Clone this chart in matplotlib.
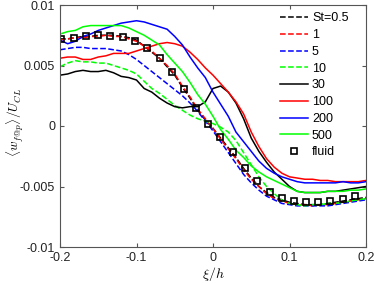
import matplotlib
matplotlib.use("Agg")
import matplotlib.pyplot as plt

plt.rcParams["font.family"] = ["Liberation Sans", "DejaVu Sans"]
plt.rcParams["mathtext.fontset"] = "cm"

# xi/h sample positions of the particle curves
xi = [-0.20, -0.19, -0.18, -0.17, -0.16, -0.15, -0.14, -0.13, -0.12, -0.11,
      -0.10, -0.09, -0.08, -0.07, -0.06, -0.05, -0.04, -0.03, -0.02, -0.01,
      0.00, 0.01, 0.02, 0.03, 0.04, 0.05, 0.06, 0.07, 0.08, 0.09,
      0.10, 0.11, 0.12, 0.13, 0.14, 0.15, 0.16, 0.17, 0.18, 0.19, 0.20]

st_05 = [0.0072, 0.0072, 0.0073, 0.0074, 0.0074, 0.0075, 0.0075, 0.0075, 0.0074, 0.0073,
         0.0071, 0.0066, 0.0061, 0.0056, 0.0049, 0.0042, 0.0032, 0.0023, 0.0013, 0.0005,
         -0.0002, -0.0010, -0.0018, -0.0026, -0.0035, -0.0043, -0.0050, -0.0055, -0.0059, -0.0061,
         -0.0063, -0.0064, -0.0065, -0.0065, -0.0065, -0.0064, -0.0063, -0.0062, -0.0061, -0.0060, -0.0059]
st_1 = [0.0071, 0.0072, 0.0073, 0.0073, 0.0074, 0.0074, 0.0075, 0.0074, 0.0074, 0.0072,
        0.0070, 0.0066, 0.0062, 0.0056, 0.0050, 0.0043, 0.0033, 0.0024, 0.0014, 0.0006,
        -0.0002, -0.0011, -0.0019, -0.0027, -0.0036, -0.0044, -0.0050, -0.0056, -0.0060, -0.0062,
        -0.0064, -0.0065, -0.0065, -0.0066, -0.0065, -0.0065, -0.0064, -0.0063, -0.0062, -0.0061, -0.0060]
st_5 = [0.0063, 0.0064, 0.0065, 0.0065, 0.0064, 0.0064, 0.0064, 0.0063, 0.0062, 0.0059,
        0.0055, 0.0050, 0.0045, 0.0040, 0.0035, 0.0030, 0.0025, 0.0019, 0.0012, 0.0004,
        -0.0004, -0.0013, -0.0022, -0.0031, -0.0040, -0.0047, -0.0053, -0.0058, -0.0061, -0.0064,
        -0.0065, -0.0066, -0.0066, -0.0066, -0.0066, -0.0066, -0.0065, -0.0064, -0.0063, -0.0062, -0.0061]
st_10 = [0.0049, 0.0052, 0.0054, 0.0053, 0.0053, 0.0052, 0.0052, 0.0050, 0.0048, 0.0046,
         0.0043, 0.0037, 0.0031, 0.0027, 0.0022, 0.0017, 0.0013, 0.0009, 0.0006, 0.0004,
         0.0002, -0.0001, -0.0005, -0.0012, -0.0022, -0.0032, -0.0042, -0.0050, -0.0056, -0.0061,
         -0.0064, -0.0065, -0.0066, -0.0065, -0.0065, -0.0064, -0.0064, -0.0063, -0.0062, -0.0061, -0.0060]
st_30 = [0.0042, 0.0043, 0.0045, 0.0046, 0.0045, 0.0045, 0.0046, 0.0044, 0.0041, 0.0040,
         0.0038, 0.0031, 0.0028, 0.0023, 0.0019, 0.0016, 0.0015, 0.0016, 0.0016, 0.0020,
         0.0031, 0.0033, 0.0028, 0.0019, 0.0006, -0.0010, -0.0021, -0.0030, -0.0038, -0.0044,
         -0.0050, -0.0054, -0.0055, -0.0055, -0.0055, -0.0054, -0.0054, -0.0053, -0.0052, -0.0051, -0.0050]
st_100 = [0.0056, 0.0057, 0.0057, 0.0055, 0.0055, 0.0057, 0.0058, 0.0060, 0.0060, 0.0060,
          0.0062, 0.0064, 0.0066, 0.0068, 0.0069, 0.0068, 0.0066, 0.0061, 0.0055, 0.0048,
          0.0042, 0.0035, 0.0028, 0.0020, 0.0010, -0.0005, -0.0017, -0.0027, -0.0034, -0.0039,
          -0.0042, -0.0043, -0.0044, -0.0044, -0.0045, -0.0045, -0.0046, -0.0046, -0.0046, -0.0046, -0.0045]
st_200 = [0.0071, 0.0068, 0.0070, 0.0074, 0.0076, 0.0079, 0.0081, 0.0083, 0.0085, 0.0086,
          0.0087, 0.0086, 0.0084, 0.0082, 0.0080, 0.0074, 0.0067, 0.0057, 0.0048, 0.0040,
          0.0028, 0.0018, 0.0008, -0.0005, -0.0013, -0.0021, -0.0029, -0.0035, -0.0039, -0.0042,
          -0.0044, -0.0046, -0.0047, -0.0047, -0.0047, -0.0047, -0.0047, -0.0046, -0.0047, -0.0047, -0.0046]
st_500 = [0.0076, 0.0078, 0.0079, 0.0082, 0.0083, 0.0083, 0.0083, 0.0083, 0.0083, 0.0081,
          0.0078, 0.0075, 0.0071, 0.0067, 0.0059, 0.0052, 0.0045, 0.0036, 0.0026, 0.0018,
          0.0008, -0.0003, -0.0011, -0.0020, -0.0026, -0.0033, -0.0038, -0.0042, -0.0045, -0.0048,
          -0.0051, -0.0054, -0.0055, -0.0055, -0.0055, -0.0054, -0.0054, -0.0054, -0.0053, -0.0053, -0.0052]

# fluid reference (squares)
xi_fluid = [-0.1987, -0.1817, -0.1664, -0.1507, -0.1346, -0.1180, -0.1020, -0.0863, -0.0697,
            -0.0540, -0.0383, -0.0222, -0.0061, 0.0098, 0.0258, 0.0418, 0.0575, 0.0741,
            0.0902, 0.1059, 0.1220, 0.1376, 0.1533, 0.1695, 0.1856]
w_fluid = [0.00719, 0.00730, 0.00744, 0.00750, 0.00746, 0.00733, 0.00702, 0.00642, 0.00564,
           0.00446, 0.00303, 0.00149, 0.00015, -0.00091, -0.00217, -0.00349, -0.00456, -0.00543,
           -0.00593, -0.00620, -0.00626, -0.00626, -0.00617, -0.00601, -0.00579]

fig = plt.figure(figsize=(3.74, 2.84), dpi=100)
ax = fig.add_axes([60 / 374, 37 / 284, 306 / 374, 242 / 284])

ax.plot(xi, st_05, "k--", lw=1.1, label="St=0.5")
ax.plot(xi, st_1, "--", color="#ff0000", lw=1.1, label="1")
ax.plot(xi, st_5, "--", color="#0000ff", lw=1.1, label="5")
ax.plot(xi, st_10, "--", color="#00ff00", lw=1.1, label="10")
ax.plot(xi, st_30, "k-", lw=1.1, label="30")
ax.plot(xi, st_100, "-", color="#ff0000", lw=1.1, label="100")
ax.plot(xi, st_200, "-", color="#0000ff", lw=1.1, label="200")
ax.plot(xi, st_500, "-", color="#00ff00", lw=1.1, label="500")
ax.plot(xi_fluid, w_fluid, "s", mfc="none", mec="k", mew=1.2, ms=4.5, label="fluid")

ax.set_xlim(-0.2, 0.2)
ax.set_ylim(-0.01, 0.01)
ax.set_xticks([-0.2, -0.1, 0, 0.1, 0.2])
ax.set_xticklabels(["-0.2", "-0.1", "0", "0.1", "0.2"])
ax.set_yticks([-0.01, -0.005, 0, 0.005, 0.01])
ax.set_yticklabels(["-0.01", "-0.005", "0", "0.005", "0.01"])
ax.tick_params(direction="in", top=True, right=True, labelsize=9, length=3,
               color="#555555", labelcolor="#222222")
for s in ax.spines.values():
    s.set_color("#555555")
    s.set_linewidth(0.8)

ax.set_xlabel(r"$\xi/h$", fontsize=10, labelpad=1)
ax.set_ylabel(r"$\langle w_{f@p}\rangle/U_{CL}$", fontsize=9.5)
ax.yaxis.set_label_coords(-0.112, 0.517)

ax.legend(loc="upper right", bbox_to_anchor=(0.959, 0.99), borderaxespad=0,
          frameon=False, fontsize=9, handlelength=2.24, labelspacing=0.38,
          handletextpad=0.32)

fig.savefig("out.png", dpi=100)
